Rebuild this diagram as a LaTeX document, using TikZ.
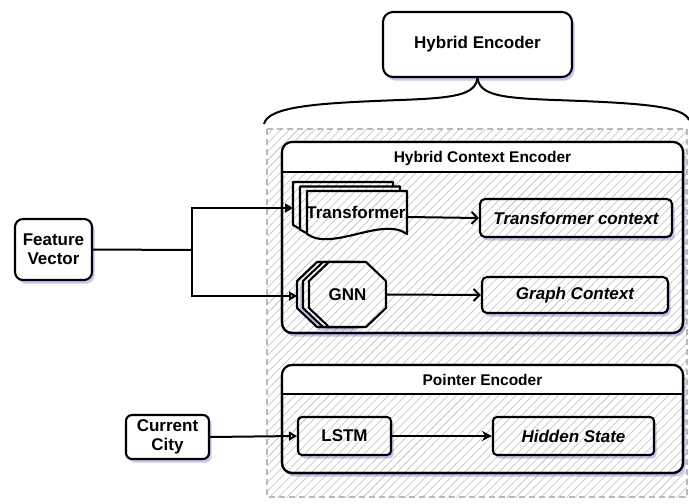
\documentclass[tikz,border=0pt]{standalone}
\usepackage{fontspec}
\setmainfont{Liberation Sans}
\usetikzlibrary{arrows.meta,patterns.meta,shadows}
\tikzset{
  ink/.style={draw=black,line width=2.1pt,line join=round},
  shade/.style={drop shadow={fill=blue!60!gray,opacity=0.28,shadow xshift=2.5pt,shadow yshift=-3.5pt}},
  hatch/.style={pattern={Lines[angle=45,distance=6pt,line width=0.55pt]},pattern color=gray!55},
  whitehatch/.style={preaction={fill=white},hatch},
  txt/.style={font=\bfseries\fontsize{17}{19}\selectfont,align=center,inner sep=0pt},
  box/.style={ink,shade,fill=white,rounded corners=8pt,txt},
  hbox/.style={ink,shade,whitehatch,rounded corners=5pt,txt},
  ital/.style={font=\bfseries\itshape\fontsize{17}{19}\selectfont},
  hdr/.style={font=\bfseries\fontsize{15.5}{17}\selectfont,inner sep=0pt},
  conn/.style={draw=black,line width=2pt},
}
\begin{document}
\begin{tikzpicture}[x=1pt,y=-1pt]
\useasboundingbox (0,0) rectangle (689,504);

% outer dashed container
\draw[draw=gray!55,line width=1.8pt,dash pattern=on 6pt off 4pt,hatch] (267,129) rectangle (687,497);

% top node and brace
\node[box,rounded corners=10pt,minimum width=189pt,minimum height=65pt] (hyb) at (477.5,44.5) {Hybrid Encoder};
\coordinate (bl) at (264,124);
\coordinate (br) at (689,120);
\draw[conn] (hyb.south) .. controls (475,95) and (455,98) .. (400,100) .. controls (320,103) and (268,106) .. (bl);
\draw[conn] (hyb.south) .. controls (480,95) and (500,98) .. (555,100) .. controls (640,103) and (684,106) .. (br);

% Hybrid Context Encoder lane
\draw[ink,shade,whitehatch,rounded corners=10pt] (282,142) rectangle (683,333);
\begin{scope}
  \clip[rounded corners=10pt] (282,142) rectangle (683,333);
  \fill[white] (282,142) rectangle (683,172);
\end{scope}
\draw[ink,rounded corners=10pt] (282,142) rectangle (683,333);
\draw[ink] (282,172) -- (683,172);
\node[hdr] (hce) at (482.5,158) {Hybrid Context Encoder};

% Pointer Encoder lane
\draw[ink,shade,whitehatch,rounded corners=10pt] (282,365) rectangle (683,473);
\begin{scope}
  \clip[rounded corners=10pt] (282,365) rectangle (683,473);
  \fill[white] (282,365) rectangle (683,394);
\end{scope}
\draw[ink,rounded corners=10pt] (282,365) rectangle (683,473);
\draw[ink] (282,394) -- (683,394);
\node[hdr] (pe) at (482.5,380) {Pointer Encoder};

% Transformer (stacked document)
\begin{scope}[shift={(-14,-9)}]
  \draw[ink,shade,whitehatch] (307,191) -- (407,191) -- (407,234) .. controls (382,216) and (332,252) .. (307,234) -- cycle;
\end{scope}
\begin{scope}[shift={(-7,-4.5)}]
  \draw[ink,whitehatch] (307,191) -- (407,191) -- (407,234) .. controls (382,216) and (332,252) .. (307,234) -- cycle;
\end{scope}
\draw[ink,whitehatch] (307,191) -- (407,191) -- (407,234) .. controls (382,216) and (332,252) .. (307,234) -- cycle;
\node[txt] (trans) at (356,212) {Transformer};
\coordinate (transL) at (293,208);
\coordinate (transR) at (407,217);

% GNN (stacked octagon)
\foreach \dx/\sh in {-12/shade,-6/,0/} {
  \begin{scope}[shift={(\dx,0)}]
    \draw[ink,whitehatch,\sh] (329,262) -- (366,262) -- (386,281) -- (386,308) -- (366,327) -- (329,327) -- (309,308) -- (309,281) -- cycle;
  \end{scope}
}
\node[txt,minimum width=77pt,minimum height=65pt] (gnn) at (347.5,294.5) {GNN};
\coordinate (gnnL) at (297,296);

% context nodes
\node[hbox,ital,minimum width=192pt,minimum height=38pt] (tctx) at (576,218) {Transformer context};
\node[hbox,ital,minimum width=186pt,minimum height=36pt] (gctx) at (575,295) {Graph Context};

% pointer encoder nodes
\node[hbox,rounded corners=4pt,minimum width=93pt,minimum height=38pt] (lstm) at (344.5,436) {LSTM};
\node[hbox,ital,rounded corners=4pt,minimum width=161pt,minimum height=38pt] (hid) at (573.5,436) {Hidden State};

% inputs
\node[box,minimum width=77pt,minimum height=61pt] (fv) at (53.5,249.5) {Feature\\Vector};
\node[box,rounded corners=6pt,minimum width=83pt,minimum height=44pt] (cc) at (167.5,437) {Current\\City};

% connectors
\coordinate (fork) at (192,250);
\draw[conn] (fv.east) -- (fork);
\draw[conn,-{Triangle[length=8pt,width=9pt]}] (fork) |- (transL);
\draw[conn,-{Triangle[open,length=8pt,width=9pt]}] (fork) |- (gnnL);
\draw[conn,-{Straight Barb[length=6pt,width=12pt]}] (transR) -- (tctx.west);
\draw[conn,-{Straight Barb[length=6pt,width=12pt]}] (gnn.east) -- (gctx.west);
\draw[conn,-{Stealth[length=10pt,width=10pt]}] (lstm.east) -- (hid.west);
\draw[conn,-{Triangle[open,length=8pt,width=9pt]}] (cc.east) -- (lstm.west);
\end{tikzpicture}
\end{document}
